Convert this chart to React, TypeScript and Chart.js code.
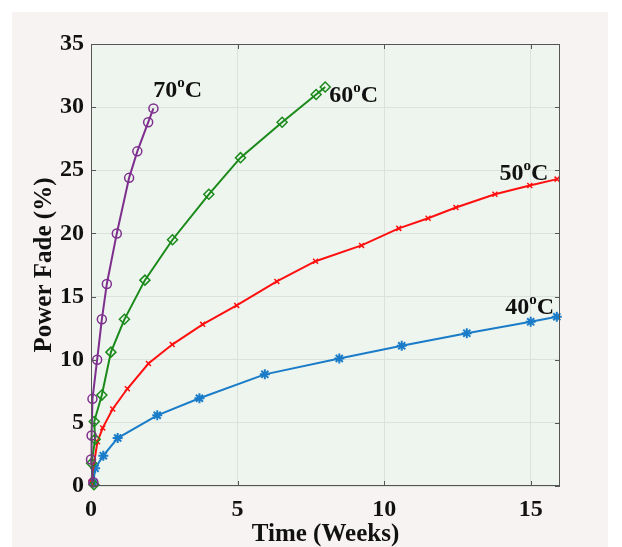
import React, { useEffect, useRef } from "react";
import { Chart, registerables } from "chart.js";

Chart.register(...registerables);

const week70 = [0.08, 0.0, 0.02, 0.05, 0.21, 0.37, 0.54, 0.88, 1.3, 1.58, 1.95, 2.13];
const fade70 = [0.3, 2.1, 4.0, 6.9, 10.0, 13.2, 16.0, 20.0, 24.4, 26.5, 28.8, 29.9];

const week60 = [0.1, 0.02, 0.14, 0.11, 0.37, 0.68, 1.14, 1.84, 2.78, 4.02, 5.1, 6.52, 7.68, 7.99];
const fade60 = [0.1, 1.8, 3.7, 5.1, 7.2, 10.6, 13.2, 16.3, 19.5, 23.1, 26.0, 28.8, 31.0, 31.6];

const week50 = [0.0, 0.22, 0.4, 0.74, 1.24, 1.96, 2.77, 3.81, 4.97, 6.34, 7.66, 9.23, 10.5, 11.5, 12.45, 13.78, 14.97, 15.9];
const fade50 = [0.3, 3.5, 4.6, 6.1, 7.7, 9.7, 11.2, 12.8, 14.3, 16.2, 17.8, 19.05, 20.4, 21.2, 22.05, 23.1, 23.8, 24.3];

const week40 = [0.08, 0.14, 0.42, 0.91, 2.26, 3.7, 5.93, 8.47, 10.6, 12.82, 15.0, 15.89];
const fade40 = [0.26, 1.4, 2.4, 3.8, 5.6, 6.95, 8.84, 10.1, 11.1, 12.1, 13.0, 13.4];

const xTicks = [0, 5, 10, 15];
const yTicks = [0, 5, 10, 15, 20, 25, 30, 35];

const seriesLabels = ["70", "60", "50", "40"];
const labelAnchorX = [2.12, 8.13, 13.94, 14.13];
const labelAnchorY = [30.8, 30.43, 24.2, 13.6];

const FONT = "'Liberation Serif', 'Times New Roman', serif";

const toPts = (xs: number[], ys: number[]) => xs.map((x, i) => ({ x, y: ys[i] }));

const decorPlugin = {
  id: "decor",
  beforeDraw(chart: any) {
    const { ctx, chartArea: a, width, height } = chart;
    ctx.save();
    ctx.fillStyle = "#ffffff";
    ctx.fillRect(0, 0, width, height);
    ctx.fillStyle = "#f8f3f3";
    ctx.fillRect(12, 12, width - 26, height - 12);
    ctx.fillStyle = "#eef5ee";
    ctx.fillRect(a.left, a.top, a.right - a.left, a.bottom - a.top);
    ctx.restore();
  },
  afterDatasetsDraw(chart: any) {
    const { ctx, chartArea: a, scales } = chart;
    const xs = scales.x;
    const ys = scales.y;
    ctx.save();
    ctx.strokeStyle = "#555555";
    ctx.lineWidth = 1;
    ctx.strokeRect(a.left + 0.5, a.top + 0.5, a.right - a.left - 1, a.bottom - a.top - 1);
    ctx.beginPath();
    xTicks.forEach((t) => {
      const px = Math.round(xs.getPixelForValue(t)) + 0.5;
      ctx.moveTo(px, a.bottom);
      ctx.lineTo(px, a.bottom - 5);
      ctx.moveTo(px, a.top);
      ctx.lineTo(px, a.top + 5);
    });
    yTicks.forEach((t) => {
      const py = Math.round(ys.getPixelForValue(t)) + 0.5;
      ctx.moveTo(a.left, py);
      ctx.lineTo(a.left + 5, py);
      ctx.moveTo(a.right, py);
      ctx.lineTo(a.right - 5, py);
    });
    ctx.stroke();

    ctx.fillStyle = "#111111";
    ctx.textBaseline = "alphabetic";
    ctx.textAlign = "left";
    seriesLabels.forEach((lab, i) => {
      let x = xs.getPixelForValue(labelAnchorX[i]);
      const y = ys.getPixelForValue(labelAnchorY[i]);
      ctx.font = `bold 24px ${FONT}`;
      ctx.fillText(lab, x, y);
      x += ctx.measureText(lab).width;
      ctx.font = `bold 15px ${FONT}`;
      ctx.fillText("o", x, y - 10);
      x += ctx.measureText("o").width;
      ctx.font = `bold 24px ${FONT}`;
      ctx.fillText("C", x, y);
    });
    ctx.restore();
  },
};

export default function App() {
  const ref = useRef<HTMLCanvasElement | null>(null);
  useEffect(() => {
    document.body.style.margin = "0";
    if (!ref.current) return;
    const chart = new Chart(ref.current, {
      type: "scatter",
      data: {
        datasets: [
          {
            label: "70°C",
            data: toPts(week70, fade70),
            showLine: true,
            clip: false,
            borderColor: "#7E2F8E",
            borderWidth: 2,
            pointStyle: "circle",
            pointRadius: 4.5,
            pointBorderWidth: 1.5,
            pointBorderColor: "#7E2F8E",
            pointBackgroundColor: "rgba(0,0,0,0)",
          },
          {
            label: "60°C",
            data: toPts(week60, fade60),
            showLine: true,
            clip: false,
            borderColor: "#1a8a1a",
            borderWidth: 2,
            pointStyle: "rectRot",
            pointRadius: 5,
            pointBorderWidth: 1.5,
            pointBorderColor: "#1a8a1a",
            pointBackgroundColor: "rgba(0,0,0,0)",
          },
          {
            label: "50°C",
            data: toPts(week50, fade50),
            showLine: true,
            clip: false,
            borderColor: "#ff1010",
            borderWidth: 2,
            pointStyle: "crossRot",
            pointRadius: 3.5,
            pointBorderWidth: 1.5,
            pointBorderColor: "#ff1010",
          },
          {
            label: "40°C",
            data: toPts(week40, fade40),
            showLine: true,
            clip: false,
            borderColor: "#1a7cc8",
            borderWidth: 2,
            pointStyle: "star",
            pointRadius: 5,
            pointBorderWidth: 2,
            pointBorderColor: "#1a7cc8",
          },
        ],
      },
      options: {
        animation: false,
        responsive: false,
        layout: { padding: { top: 44, right: 62, left: 0, bottom: 0 } },
        plugins: { legend: { display: false }, tooltip: { enabled: false } },
        scales: {
          x: {
            type: "linear",
            min: 0,
            max: 16,
            afterFit: (s: any) => {
              s.height = 61;
            },
            afterBuildTicks: (s: any) => {
              s.ticks = xTicks.map((v) => ({ value: v }));
            },
            grid: { color: "#dbe2db", drawTicks: false, lineWidth: 1 },
            border: { display: false },
            ticks: {
              padding: 9,
              color: "#111111",
              font: { family: FONT, size: 24, weight: "bold" },
            },
            title: {
              display: true,
              text: "Time (Weeks)",
              color: "#111111",
              font: { family: FONT, size: 25, weight: "bold", lineHeight: 1 },
              padding: { top: 0, bottom: 0 },
            },
          },
          y: {
            type: "linear",
            min: 0,
            max: 35,
            afterFit: (s: any) => {
              s.width = 91;
            },
            afterBuildTicks: (s: any) => {
              s.ticks = yTicks.map((v) => ({ value: v }));
            },
            grid: { color: "#dbe2db", drawTicks: false, lineWidth: 1 },
            border: { display: false },
            ticks: {
              padding: 7,
              color: "#111111",
              font: { family: FONT, size: 24, weight: "bold" },
            },
            title: {
              display: true,
              text: "Power Fade (%)",
              color: "#111111",
              font: { family: FONT, size: 25, weight: "bold", lineHeight: 1 },
              padding: { top: 32, bottom: 0 },
            },
          },
        },
      },
      plugins: [decorPlugin],
    } as any);
    return () => chart.destroy();
  }, []);
  return <canvas ref={ref} width={622} height={547} style={{ display: "block" }} />;
}
